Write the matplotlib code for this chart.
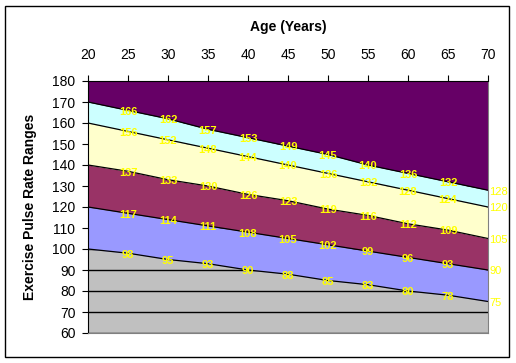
import matplotlib
matplotlib.use('Agg')
from matplotlib import pyplot as plt
from matplotlib.patches import Rectangle

plt.rcParams['font.family'] = ['Liberation Sans', 'DejaVu Sans']

# ages and upper edge of every band
ages = [20, 25, 30, 35, 40, 45, 50, 55, 60, 65, 70]
grey_top = [100, 98, 95, 93, 90, 88, 85, 83, 80, 78, 75]
blue_top = [120, 117, 114, 111, 108, 105, 102, 99, 96, 93, 90]
maroon_top = [140, 137, 133, 130, 126, 123, 119, 116, 112, 109, 105]
yellow_top = [160, 156, 152, 148, 144, 140, 136, 132, 128, 124, 120]
cyan_top = [170, 166, 162, 157, 153, 149, 145, 140, 136, 132, 128]
y_top = [180] * len(ages)

fig = plt.figure(figsize=(5.16, 3.63), dpi=100)
ax = fig.add_axes([88 / 516, 30 / 363, 400 / 516, 252 / 363])
ax.set_facecolor('#C0C0C0')
ax.set_xlim(20, 70)
ax.set_ylim(60, 180)
ax.set_xticks(ages)
ax.set_yticks(range(60, 181, 10))
ax.yaxis.grid(True, color='k', lw=1)
ax.set_axisbelow(True)

bands = [grey_top, blue_top, maroon_top, yellow_top, cyan_top, y_top]
colors = ['#9999FF', '#993366', '#FFFFCC', '#CCFFFF', '#660066']
for lower, upper, c in zip(bands[:-1], bands[1:], colors):
    ax.fill_between(ages, lower, upper, color=c, lw=0, zorder=2)
for b in bands[:-1]:
    ax.plot(ages, b, color='k', lw=0.9, zorder=3)

# data labels
for b in bands[:-1]:
    for i in range(1, len(ages)):
        if i == len(ages) - 1:
            # last point sits outside the plot, plain text
            ax.annotate(str(b[i]), (ages[i], b[i]), xytext=(1, -1), textcoords='offset points',
                        ha='left', va='center', color='#FFFF00', fontsize=8,
                        zorder=5, annotation_clip=False)
        else:
            ax.annotate(str(b[i]), (ages[i], b[i]), xytext=(0, -1), textcoords='offset points',
                        ha='center', va='center', color='#FFFF00', fontsize=8,
                        fontweight='bold', zorder=5)

ax.xaxis.tick_top()
ax.xaxis.set_label_position('top')
ax.tick_params(axis='x', direction='out', length=4, pad=10, labelsize=10, color='k')
ax.tick_params(axis='y', direction='out', length=4, pad=5, labelsize=10, color='k')
ax.set_xlabel('Age (Years)', fontweight='bold', fontsize=10, labelpad=12)
ax.set_ylabel('Exercise Pulse Rate Ranges', fontweight='bold', fontsize=10, labelpad=11)

for s in ['top', 'left']:
    ax.spines[s].set_color('k')
for s in ['right', 'bottom']:
    ax.spines[s].set_color('#808080')
for s in ax.spines.values():
    s.set_zorder(6)

fig.patches.append(Rectangle((5 / 516, 6 / 363), 504 / 516, 351 / 363, transform=fig.transFigure,
                             fill=False, ec='k', lw=1))

fig.savefig('out.png', dpi=100)
